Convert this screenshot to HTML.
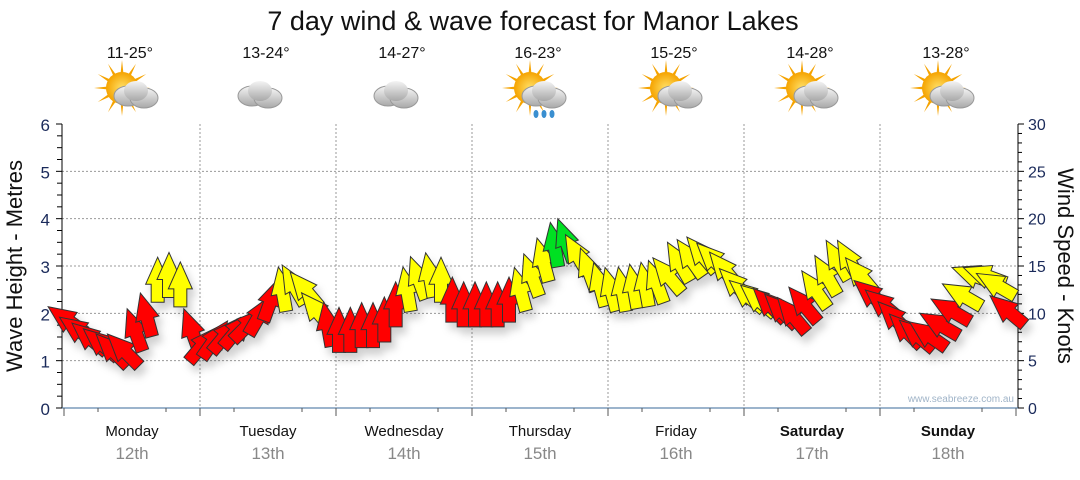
<!DOCTYPE html>
<html><head><meta charset="utf-8"><style>
body{margin:0;background:#fff;width:1080px;height:475px;overflow:hidden;font-family:"Liberation Sans",sans-serif}
</style></head><body>
<svg id="c" width="1080" height="475" xmlns="http://www.w3.org/2000/svg">
<defs>
<filter id="sh" x="-50%" y="-50%" width="200%" height="200%"><feDropShadow dx="4" dy="7" stdDeviation="4" flood-color="#000" flood-opacity="0.18"/></filter>
<radialGradient id="sun" cx="0.5" cy="0.5" r="0.5"><stop offset="0" stop-color="#ffe066"/><stop offset="1" stop-color="#f5a300"/></radialGradient>
<linearGradient id="cl" x1="0" y1="0" x2="0" y2="1"><stop offset="0" stop-color="#f4f4f4"/><stop offset="1" stop-color="#a8a8a8"/></linearGradient>
</defs>
<text x="533" y="30" text-anchor="middle" font-size="27" fill="#111">7 day wind &amp; wave forecast for Manor Lakes</text>
<g id="grid"></g><g id="axes"></g><g id="icons"></g><g id="arrows" filter="url(#sh)"></g>
<text transform="translate(22,266) rotate(-90)" text-anchor="middle" font-size="22" fill="#111">Wave Height - Metres</text>
<text transform="translate(1058,266) rotate(90)" text-anchor="middle" font-size="22" fill="#111">Wind Speed - Knots</text>
<text x="1014" y="402" text-anchor="end" font-size="10" fill="#a0b4c8">www.seabreeze.com.au</text>
</svg>
<script>
const days=["Monday","Tuesday","Wednesday","Thursday","Friday","Saturday","Sunday"];
const dates=["12th","13th","14th","15th","16th","17th","18th"];
const temps=["11-25°","13-24°","14-27°","16-23°","15-25°","14-28°","13-28°"];
const icons=["sun","cloud","cloud","rain","sun","sun","sun"];
const wind=[9.3,8.2,7.4,6.8,6.1,6.1,8.2,9.8,13.5,14,13,8.2,
6.7,7.2,7.7,8.2,8.8,9.8,11.4,12.5,13,12.5,10.3,8.8,
8.2,8.2,8.7,8.7,9.3,10.9,12.5,13.7,14,13.5,11.4,10.9,
10.9,10.9,10.9,11.4,12.5,14,15.6,17.2,17.7,16.2,14.6,13,
12.5,12.5,12.8,13,13.3,14,15.4,15.8,16.2,15.7,14.6,13,
11.9,11.4,10.9,10.3,9.8,10.9,12.5,14,15.6,15.6,14,11.9,
10.9,9.5,8.2,7.7,7.7,8.8,10.3,11.9,14,14,13,10.3];
const dir=[-55,-55,-50,-50,-45,-45,-20,-15,0,0,0,-20,
40,35,40,40,45,30,20,-10,-30,-40,-40,-10,
0,0,0,0,0,0,-10,-20,-10,0,0,0,
0,0,0,0,-15,-20,-15,-10,-20,-30,-20,-15,
-15,-10,-10,-10,-20,-40,-30,-35,-40,-45,-40,-45,
-50,-50,-45,-45,-40,-40,-35,-30,-30,-30,-40,-50,
-50,-45,-45,-50,-55,-60,-60,-60,-70,-70,-60,-50];
const col="rrrrrrrryyyr"+"rrrrrrryyyyr"+"rrrrrryyyyrr"+"rrrryyyggyyy"+"yyyyyyyyyyyy"+"yyrrrryyyyyr"+"rrrrrrryyyyr";
const NS="http://www.w3.org/2000/svg";
const L=62,R=1018,T=124,B=408,x0=64,dw=136;
const yM=m=>B-(B-T)*m/6, yK=k=>B-(B-T)*k/30, xI=i=>x0+i*dw/12+3;
function mk(t,a,p){const e=document.createElementNS(NS,t);for(const k in a)e.setAttribute(k,a[k]);p.appendChild(e);return e;}
const g=document.getElementById('grid'),ax=document.getElementById('axes');
for(let m=1;m<=5;m++){const l=mk('line',{x1:L,x2:R,y1:yM(m),y2:yM(m),stroke:'#999','stroke-dasharray':'2,2'},g);

}
for(let d=1;d<7;d++){const l=mk('line',{x1:x0+d*dw,x2:x0+d*dw,y1:T,y2:B,stroke:'#999','stroke-dasharray':'2,2'},g);

}
mk('line',{x1:L,x2:L,y1:T,y2:B,stroke:'#000'},ax);
mk('line',{x1:R,x2:R,y1:T,y2:B,stroke:'#000'},ax);
mk('line',{x1:L,x2:R,y1:B,y2:B,stroke:'#3a6a9a'},ax);
for(let q=0;q<=24;q++){const y=yM(q/4);mk('line',{x1:L-(q%4?5:6),x2:L,y1:y,y2:y,stroke:'#000'},ax);}
for(let m=0;m<=6;m++){const t=mk('text',{x:L-12,y:yM(m)+7,'text-anchor':'end','font-size':17,fill:'#1a2a5a'},ax);t.textContent=m;

}
for(let k=0;k<=30;k++){const y=yK(k);mk('line',{x1:R,x2:R+(k%5?4:6),y1:y,y2:y,stroke:'#000'},ax);}
for(let k=0;k<=30;k+=5){const t=mk('text',{x:R+10,y:yK(k)+6,'font-size':16,fill:'#1a2a5a'},ax);t.textContent=k;

}
for(let d=0;d<=7;d++){mk('line',{x1:x0+d*dw,x2:x0+d*dw,y1:B,y2:B+8,stroke:'#555'},ax);if(d<7)mk('line',{x1:x0+d*dw+dw/4,x2:x0+d*dw+dw/4,y1:B,y2:B+4,stroke:'#555'},ax),mk('line',{x1:x0+d*dw+3*dw/4,x2:x0+d*dw+3*dw/4,y1:B,y2:B+4,stroke:'#555'},ax);}
const ic=document.getElementById('icons');
days.forEach((d,i)=>{const cx=x0+i*dw+dw/2;const we=(i>=5)?'bold':'normal';
let t=mk('text',{x:cx,y:436,'text-anchor':'middle','font-size':15,'font-weight':we,fill:'#111'},ax);t.textContent=d;


t=mk('text',{x:cx,y:459,'text-anchor':'middle','font-size':17,fill:'#888'},ax);t.textContent=dates[i];


t=mk('text',{x:cx-2,y:58,'text-anchor':'middle','font-size':16,fill:'#111'},ic);t.textContent=temps[i];


const gi=mk('g',{transform:`translate(${cx-2},94)`},ic);


if(icons[i]!=='cloud'){for(let a=0;a<360;a+=30)mk('path',{d:'M-3,0 L3,0 L0,-28 Z',fill:'#f5a300',transform:`translate(-8,-6) rotate(${a})`},gi);mk('circle',{cx:-8,cy:-6,r:16,fill:'url(#sun)'},gi);}
const ox=icons[i]==='cloud'?-6:6;
mk('ellipse',{cx:ox-8,cy:2,rx:14,ry:10,fill:'url(#cl)',stroke:'#999'},gi);
mk('ellipse',{cx:ox+8,cy:4,rx:14,ry:10,fill:'url(#cl)',stroke:'#999'},gi);
mk('ellipse',{cx:ox,cy:-3,rx:12,ry:10,fill:'url(#cl)'},gi);
if(icons[i]==='rain'){[-8,0,8].forEach(dx=>mk('ellipse',{cx:ox+dx,cy:20,rx:2.5,ry:4,fill:'#3a8fd0'},gi));}
});
const cmap={r:'#ff0000',y:'#ffff00',g:'#00e020'};
const ar=document.getElementById('arrows');
wind.forEach((w,i)=>{
const p=mk('path',{d:'M-6.5,22 L-6.5,4 L-12,4 L0,-23 L12,4 L6.5,4 L6.5,22 Z',fill:cmap[col[i]],stroke:'#333','stroke-width':1,
transform:`translate(${xI(i)},${yK(w)}) rotate(${dir[i]})`},ar);


});
</script>
</body></html>
